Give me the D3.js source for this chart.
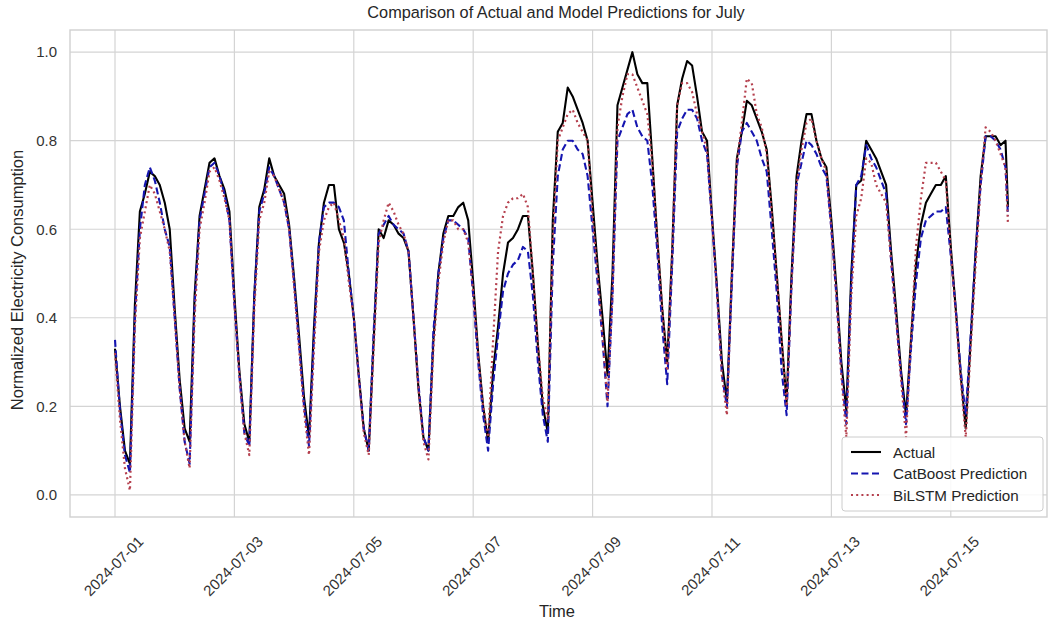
<!DOCTYPE html>
<html>
<head>
<meta charset="utf-8">
<script src="https://cdn.jsdelivr.net/npm/d3@7"></script>
<style>
  body { margin: 0; background: #fff; }
  text { font-family: "Liberation Sans", Arial, sans-serif; }
</style>
</head>
<body>
<div id="chart"></div>
<script>
// hourly series sampled every 2 hours, 07-01 00:00 .. 07-15 22:00, plus last point 07-15 23:00
var hours = d3.range(0, 360, 2).concat([359]);

var actual = [
  .33,.20,.10,.07,.43,.64,.68,.73,.72,.70,.66,.60,  // 07-01
  .42,.26,.15,.12,.45,.63,.69,.75,.76,.72,.69,.64,  // 07-02
  .45,.28,.16,.12,.45,.65,.69,.76,.72,.70,.68,.61,  // 07-03
  .49,.36,.22,.13,.38,.57,.66,.70,.70,.60,.57,.50,  // 07-04
  .40,.27,.15,.10,.35,.60,.58,.62,.61,.59,.58,.55,  // 07-05
  .40,.24,.13,.10,.35,.50,.59,.63,.63,.65,.66,.62,  // 07-06
  .48,.32,.20,.12,.28,.38,.50,.57,.58,.60,.63,.63,  // 07-07
  .50,.34,.20,.14,.62,.82,.84,.92,.90,.87,.84,.80,  // 07-08
  .66,.52,.40,.27,.50,.88,.92,.96,1.0,.95,.93,.93,  // 07-09
  .76,.58,.42,.30,.55,.88,.94,.98,.97,.90,.82,.80,  // 07-10
  .63,.47,.30,.21,.50,.76,.82,.89,.88,.85,.82,.78,  // 07-11
  .65,.50,.35,.21,.50,.72,.80,.86,.86,.80,.76,.74,  // 07-12
  .62,.47,.30,.19,.50,.70,.71,.80,.78,.76,.73,.70,  // 07-13
  .55,.42,.28,.18,.35,.52,.61,.66,.68,.70,.70,.72,  // 07-14
  .56,.42,.27,.15,.35,.55,.72,.81,.81,.81,.79,.80,.65 // 07-15
];
var catboost = [
  .35,.19,.09,.05,.40,.60,.70,.74,.71,.66,.60,.56,
  .40,.24,.12,.07,.43,.62,.68,.74,.75,.72,.68,.62,
  .43,.27,.14,.11,.45,.64,.68,.74,.72,.69,.66,.60,
  .48,.34,.20,.11,.36,.57,.65,.66,.66,.65,.62,.50,
  .40,.27,.15,.10,.37,.59,.61,.63,.61,.60,.59,.55,
  .40,.25,.13,.10,.37,.50,.58,.62,.62,.61,.60,.58,
  .45,.30,.18,.10,.25,.36,.46,.50,.52,.53,.56,.55,
  .45,.30,.18,.12,.52,.72,.78,.80,.80,.78,.77,.72,
  .60,.48,.35,.20,.45,.80,.83,.86,.87,.83,.81,.80,
  .70,.55,.38,.25,.52,.82,.85,.87,.87,.85,.80,.77,
  .62,.46,.27,.20,.48,.74,.82,.84,.82,.80,.76,.73,
  .60,.46,.28,.18,.48,.70,.75,.80,.79,.77,.74,.72,
  .60,.45,.28,.16,.48,.70,.72,.79,.76,.74,.71,.68,
  .53,.40,.27,.16,.33,.48,.58,.62,.63,.64,.64,.65,
  .54,.42,.28,.18,.36,.55,.70,.81,.81,.80,.78,.74,.63
];
var bilstm = [
  .32,.17,.06,.01,.38,.58,.64,.70,.68,.64,.60,.55,
  .40,.24,.12,.06,.40,.60,.66,.73,.74,.71,.67,.62,
  .43,.27,.14,.09,.42,.62,.66,.73,.72,.69,.66,.60,
  .47,.33,.19,.09,.33,.55,.62,.65,.66,.62,.58,.48,
  .40,.27,.14,.09,.33,.57,.62,.66,.64,.61,.59,.55,
  .40,.24,.12,.08,.33,.48,.57,.62,.62,.60,.60,.57,
  .46,.31,.20,.13,.35,.55,.63,.66,.67,.67,.68,.65,
  .50,.34,.22,.17,.58,.80,.83,.86,.87,.84,.82,.80,
  .63,.50,.36,.21,.45,.83,.90,.95,.95,.92,.89,.86,
  .75,.58,.42,.28,.55,.88,.93,.93,.91,.86,.82,.78,
  .62,.46,.27,.18,.50,.75,.84,.94,.93,.86,.83,.77,
  .64,.50,.35,.20,.48,.70,.78,.84,.85,.80,.76,.73,
  .60,.45,.27,.13,.45,.63,.67,.76,.75,.70,.68,.66,
  .53,.40,.26,.13,.35,.56,.67,.75,.75,.75,.73,.71,
  .55,.41,.26,.13,.33,.52,.70,.83,.82,.80,.77,.74,.61
];

var xTickLabels = ["2024-07-01","2024-07-03","2024-07-05","2024-07-07","2024-07-09","2024-07-11","2024-07-13","2024-07-15"];
var yTicks = [0.0, 0.2, 0.4, 0.6, 0.8, 1.0];

var W = 1049, H = 623;
var frame = {left: 70, right: 1047, top: 30, bottom: 517};

var t0 = new Date(Date.UTC(2024, 6, 1));
var times = hours.map(h => d3.utcHour.offset(t0, h));

var svg = d3.select("#chart").append("svg")
  .attr("width", W).attr("height", H);

// x: data span 0..359h, padded inside the frame
var xScale = d3.scaleUtc()
  .domain([times[0], times[times.length - 1]])
  .range([115, 1008]);
var yScale = d3.scaleLinear()
  .domain([-0.05, 1.05])
  .range([frame.bottom, frame.top]);

var grid = svg.append("g");
var tickDates = xTickLabels.map(s => d3.utcParse("%Y-%m-%d")(s));

grid.selectAll("line.vx").data(tickDates).join("line")
  .attr("x1", d => xScale(d)).attr("x2", d => xScale(d))
  .attr("y1", frame.top).attr("y2", frame.bottom)
  .attr("stroke", "#d4d4d4").attr("stroke-width", 1.2);
grid.selectAll("line.hy").data(yTicks).join("line")
  .attr("x1", frame.left).attr("x2", frame.right)
  .attr("y1", d => yScale(d)).attr("y2", d => yScale(d))
  .attr("stroke", "#d4d4d4").attr("stroke-width", 1.2);

svg.append("rect")
  .attr("x", frame.left).attr("y", frame.top)
  .attr("width", frame.right - frame.left).attr("height", frame.bottom - frame.top)
  .attr("fill", "none").attr("stroke", "#d0d0d0").attr("stroke-width", 1.4);

// axes (tick labels only, seaborn whitegrid has no tick marks)
var yAxis = d3.axisLeft(yScale).tickValues(yTicks).tickFormat(d3.format(".1f")).tickSize(0).tickPadding(13);
svg.append("g").attr("transform", `translate(${frame.left},0)`).call(yAxis)
  .call(g => g.select(".domain").remove())
  .selectAll("text").attr("font-size", "15px").attr("fill", "#333");

var xAxis = d3.axisBottom(xScale).tickValues(tickDates).tickFormat(d3.utcFormat("%Y-%m-%d")).tickSize(0);
svg.append("g").attr("transform", `translate(0,${frame.bottom})`).call(xAxis)
  .call(g => g.select(".domain").remove())
  .selectAll("text")
  .attr("font-size", "15px").attr("fill", "#333")
  .attr("text-anchor", "middle").attr("dy", null).attr("y", 0)
  .attr("transform", "translate(-1,50) rotate(-45)")
  .attr("dominant-baseline", "middle");

var series = [
  {name: "Actual", values: actual, color: "#000000", dash: null, width: 2.1},
  {name: "CatBoost Prediction", values: catboost, color: "#1515b0", dash: "7,3.5", width: 2.1},
  {name: "BiLSTM Prediction", values: bilstm, color: "#b5404e", dash: "2,3.2", width: 2.2}
];

var line = d3.line()
  .x((d, i) => xScale(times[i]))
  .y(d => yScale(d));

var plot = svg.append("g");
plot.selectAll("path").data(series).join("path")
  .attr("d", d => line(d.values))
  .attr("fill", "none")
  .attr("stroke", d => d.color)
  .attr("stroke-width", d => d.width)
  .attr("stroke-dasharray", d => d.dash)
  .attr("stroke-linejoin", "round");

// title and axis labels
svg.append("text").attr("x", 556).attr("y", 18).attr("text-anchor", "middle")
  .attr("font-size", "16.3px").attr("fill", "#262626")
  .text("Comparison of Actual and Model Predictions for July");
svg.append("text").attr("x", 557).attr("y", 617).attr("text-anchor", "middle")
  .attr("font-size", "16.5px").attr("fill", "#262626").text("Time");
svg.append("text").attr("transform", "translate(23,280) rotate(-90)").attr("text-anchor", "middle")
  .attr("font-size", "16.5px").attr("fill", "#262626").text("Normalized Electricity Consumption");

// legend
var lg = svg.append("g").attr("transform", "translate(842,437)");
lg.append("rect").attr("width", 201).attr("height", 74).attr("rx", 3)
  .attr("fill", "white").attr("fill-opacity", 0.85).attr("stroke", "#cccccc");
var rows = lg.selectAll("g.row").data(series).join("g")
  .attr("transform", (d, i) => `translate(0,${15 + i * 21.5})`);
rows.append("line").attr("x1", 9).attr("x2", 39)
  .attr("stroke", d => d.color).attr("stroke-width", d => d.width)
  .attr("stroke-dasharray", d => d.dash);
rows.append("text").attr("x", 51).attr("y", 5.5)
  .attr("font-size", "15.2px").attr("fill", "#262626").text(d => d.name);
</script>
</body>
</html>
